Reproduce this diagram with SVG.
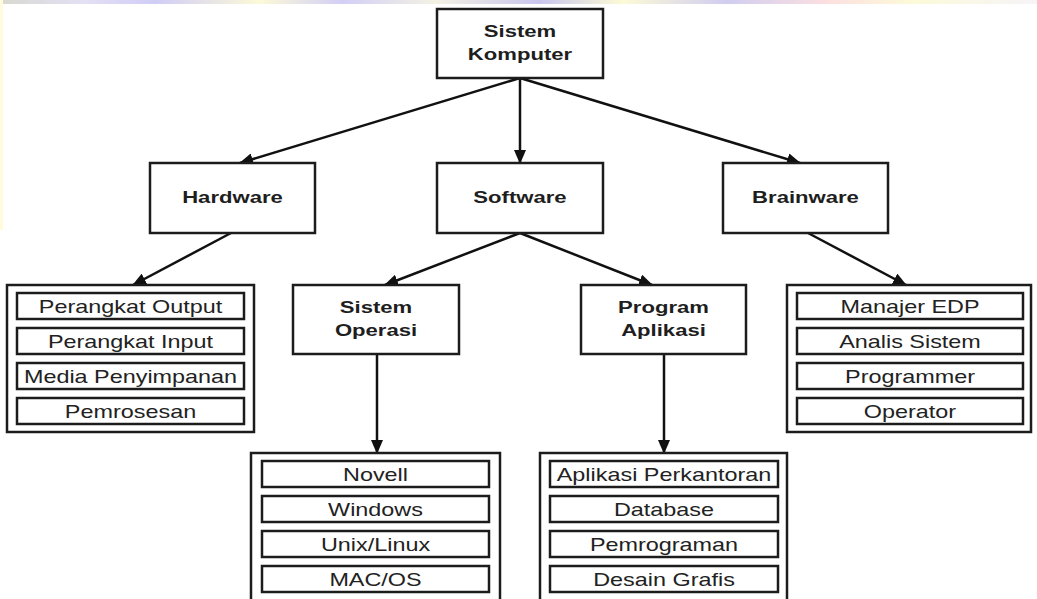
<svg xmlns="http://www.w3.org/2000/svg" width="1037" height="599" viewBox="0 0 1037 599">
<style>
.box{fill:#fff;stroke:#1c1c1c;stroke-width:2.5}
.item{fill:#fff;stroke:#1c1c1c;stroke-width:2.5}
.ttl{font-family:"Liberation Sans",Arial,sans-serif;font-weight:bold;font-size:17px;fill:#1e1e1e;text-anchor:middle}
.lbl{font-family:"Liberation Sans",Arial,sans-serif;font-size:18px;fill:#222;text-anchor:middle}
.con{stroke:#111;stroke-width:2.5;fill:none;marker-end:url(#ah)}
</style>
<defs>
<marker id="ah" markerUnits="userSpaceOnUse" markerWidth="14" markerHeight="12" refX="13" refY="6" orient="auto">
<path d="M0,0 L14,6 L0,12 z" fill="#111"/>
</marker>
<linearGradient id="strip" x1="0" y1="0" x2="1" y2="0">
<stop offset="0" stop-color="#d8d8d0"/>
<stop offset="0.08" stop-color="#e4e0f4"/>
<stop offset="0.15" stop-color="#cfcdf6"/>
<stop offset="0.25" stop-color="#fdf9d8"/>
<stop offset="0.33" stop-color="#d2cff6"/>
<stop offset="0.42" stop-color="#f4f2e4"/>
<stop offset="0.52" stop-color="#c9c6ee"/>
<stop offset="0.6" stop-color="#fdfad6"/>
<stop offset="0.7" stop-color="#d0cdf0"/>
<stop offset="0.8" stop-color="#fde0e0"/>
<stop offset="0.88" stop-color="#fcfad8"/>
<stop offset="1" stop-color="#f6f4f8"/>
</linearGradient>
</defs>
<rect x="0" y="0" width="1037" height="599" fill="#fff"/>
<rect x="0" y="0" width="1037" height="4" fill="url(#strip)"/>
<rect x="0" y="0" width="3" height="230" fill="#fffbdc"/>

<g id="connectors">
<line class="con" x1="520" y1="78" x2="240" y2="163"/>
<line class="con" x1="520" y1="78" x2="520" y2="163"/>
<line class="con" x1="520" y1="78" x2="800" y2="163"/>
<line class="con" x1="231" y1="233" x2="133" y2="285"/>
<line class="con" x1="520" y1="233" x2="385" y2="285"/>
<line class="con" x1="520" y1="233" x2="652" y2="285"/>
<line class="con" x1="808" y1="233" x2="906" y2="285"/>
<line class="con" x1="377" y1="354" x2="377" y2="453"/>
<line class="con" x1="664" y1="354" x2="664" y2="453"/>
</g>

<g id="sistem-komputer">
<rect class="box" x="437" y="9" width="166" height="69"/>
<text class="ttl" transform="translate(520,37) scale(1.3,1)">Sistem</text>
<text class="ttl" transform="translate(520,60) scale(1.3,1)">Komputer</text>
</g>

<g id="hardware">
<rect class="box" x="150" y="163" width="165" height="70"/>
<text class="ttl" transform="translate(232.5,203) scale(1.3,1)">Hardware</text>
</g>
<g id="software">
<rect class="box" x="437" y="163" width="166" height="70"/>
<text class="ttl" transform="translate(520,203) scale(1.3,1)">Software</text>
</g>
<g id="brainware">
<rect class="box" x="723" y="163" width="165" height="70"/>
<text class="ttl" transform="translate(805.5,203) scale(1.3,1)">Brainware</text>
</g>

<g id="sistem-operasi">
<rect class="box" x="293" y="285" width="166" height="69"/>
<text class="ttl" transform="translate(376,313) scale(1.3,1)">Sistem</text>
<text class="ttl" transform="translate(376,336) scale(1.3,1)">Operasi</text>
</g>
<g id="program-aplikasi">
<rect class="box" x="581" y="285" width="165" height="69"/>
<text class="ttl" transform="translate(663.5,313) scale(1.3,1)">Program</text>
<text class="ttl" transform="translate(663.5,336) scale(1.3,1)">Aplikasi</text>
</g>

<g id="hardware-list">
<rect class="box" x="7" y="285" width="247" height="147"/>
<rect class="item" x="17" y="293" width="227" height="26"/>
<rect class="item" x="17" y="328" width="227" height="26"/>
<rect class="item" x="17" y="363" width="227" height="26"/>
<rect class="item" x="17" y="398" width="227" height="26"/>
<text class="lbl" transform="translate(130.5,312.5) scale(1.3,1)">Perangkat Output</text>
<text class="lbl" transform="translate(130.5,347.5) scale(1.3,1)">Perangkat Input</text>
<text class="lbl" transform="translate(130.5,382.5) scale(1.3,1)">Media Penyimpanan</text>
<text class="lbl" transform="translate(130.5,417.5) scale(1.3,1)">Pemrosesan</text>
</g>

<g id="brainware-list">
<rect class="box" x="787" y="285" width="244" height="147"/>
<rect class="item" x="797" y="293" width="226" height="26"/>
<rect class="item" x="797" y="328" width="226" height="26"/>
<rect class="item" x="797" y="363" width="226" height="26"/>
<rect class="item" x="797" y="398" width="226" height="26"/>
<text class="lbl" transform="translate(910,312.5) scale(1.3,1)">Manajer EDP</text>
<text class="lbl" transform="translate(910,347.5) scale(1.3,1)">Analis Sistem</text>
<text class="lbl" transform="translate(910,382.5) scale(1.3,1)">Programmer</text>
<text class="lbl" transform="translate(910,417.5) scale(1.3,1)">Operator</text>
</g>

<g id="sistem-operasi-list">
<rect class="box" x="251" y="453" width="249" height="160"/>
<rect class="item" x="262" y="461" width="227" height="26"/>
<rect class="item" x="262" y="496" width="227" height="26"/>
<rect class="item" x="262" y="531" width="227" height="26"/>
<rect class="item" x="262" y="566" width="227" height="26"/>
<text class="lbl" transform="translate(375.5,480.5) scale(1.3,1)">Novell</text>
<text class="lbl" transform="translate(375.5,515.5) scale(1.3,1)">Windows</text>
<text class="lbl" transform="translate(375.5,550.5) scale(1.3,1)">Unix/Linux</text>
<text class="lbl" transform="translate(375.5,585.5) scale(1.3,1)">MAC/OS</text>
</g>

<g id="program-aplikasi-list">
<rect class="box" x="540" y="453" width="247" height="160"/>
<rect class="item" x="550" y="461" width="228" height="26"/>
<rect class="item" x="550" y="496" width="228" height="26"/>
<rect class="item" x="550" y="531" width="228" height="26"/>
<rect class="item" x="550" y="566" width="228" height="26"/>
<text class="lbl" transform="translate(664,480.5) scale(1.3,1)">Aplikasi Perkantoran</text>
<text class="lbl" transform="translate(664,515.5) scale(1.3,1)">Database</text>
<text class="lbl" transform="translate(664,550.5) scale(1.3,1)">Pemrograman</text>
<text class="lbl" transform="translate(664,585.5) scale(1.3,1)">Desain Grafis</text>
</g>
</svg>
